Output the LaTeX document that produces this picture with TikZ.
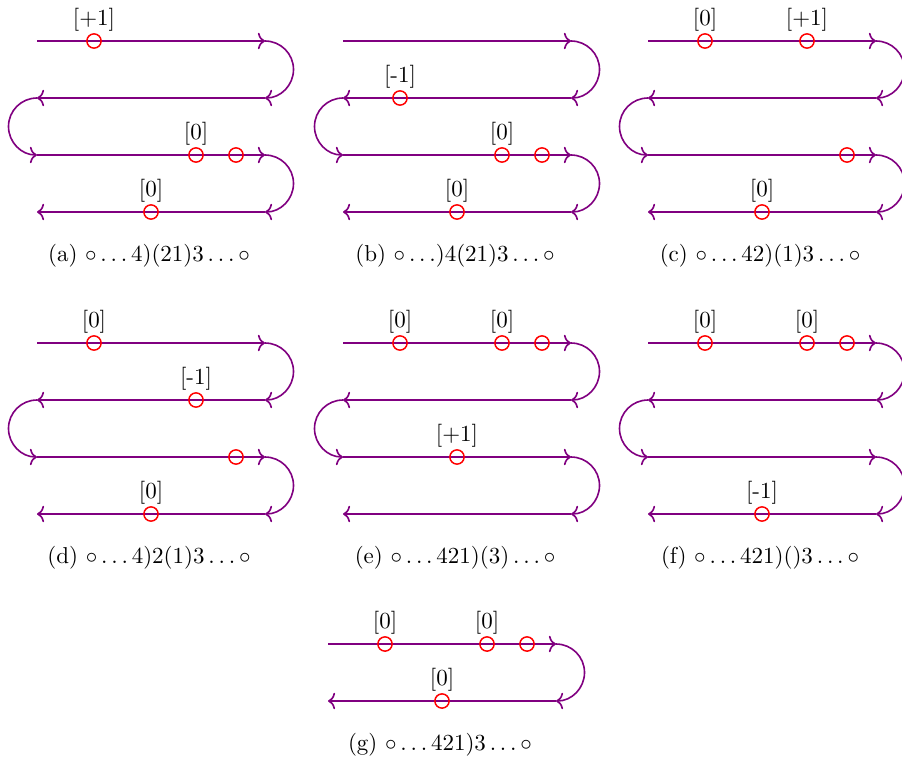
\documentclass[tikz,border=0pt]{standalone}
\usetikzlibrary{arrows.meta,calc}
\definecolor{pathcol}{RGB}{128,0,128}
\tikzset{
  track/.style={draw=pathcol,line width=0.7pt,-{Computer Modern Rightarrow[length=3.1pt,width=7.2pt]}},
  defect/.style={circle,draw=red,line width=0.65pt,minimum size=6.2pt,inner sep=0pt},
  tag/.style={inner sep=0.6pt},
  captext/.style={inner sep=0pt}
}
% #1 prefix, #2 x, #3 y
\newcommand\quadtrack[3]{%
  \coordinate (#1-1l) at (#2,#3);
  \coordinate (#1-1r) at ($(#2,#3)+(228,0)$);
  \coordinate (#1-2l) at ($(#2,#3)+(0,57)$);
  \coordinate (#1-2r) at ($(#2,#3)+(228,57)$);
  \coordinate (#1-3l) at ($(#2,#3)+(0,114)$);
  \coordinate (#1-3r) at ($(#2,#3)+(228,114)$);
  \coordinate (#1-4l) at ($(#2,#3)+(0,171)$);
  \coordinate (#1-4r) at ($(#2,#3)+(228,171)$);
  \draw[track] (#1-1l) -- (#1-1r);
  \draw[track] (#1-1r) arc[start angle=-90,end angle=90,radius=28.5];
  \draw[track] (#1-2r) -- (#1-2l);
  \draw[track] (#1-2l) arc[start angle=-90,end angle=-270,radius=28.5];
  \draw[track] (#1-3l) -- (#1-3r);
  \draw[track] (#1-3r) arc[start angle=-90,end angle=90,radius=28.5];
  \draw[track] (#1-4r) -- (#1-4l);
}
\newcommand\duotrack[3]{%
  \coordinate (#1-1l) at (#2,#3);
  \coordinate (#1-1r) at ($(#2,#3)+(228,0)$);
  \coordinate (#1-2l) at ($(#2,#3)+(0,57)$);
  \coordinate (#1-2r) at ($(#2,#3)+(228,57)$);
  \draw[track] (#1-1l) -- (#1-1r);
  \draw[track] (#1-1r) arc[start angle=-90,end angle=90,radius=28.5];
  \draw[track] (#1-2r) -- (#1-2l);
}
% #1 node name, #2 line coordinate, #3 offset, #4 label
\newcommand\defectat[4]{%
  \node[defect,label={[tag]above:{#4}}] (#1) at ($(#2)+(#3,0)$) {};
}
\newcommand\plaindefect[3]{%
  \node[defect] (#1) at ($(#2)+(#3,0)$) {};
}
\begin{document}
\begin{tikzpicture}[x=0.435pt,y=-0.435pt]
\useasboundingbox (0,0) rectangle (902,762);

% (a)
\quadtrack{a}{37}{41}
\defectat{a1}{a-1l}{57}{[+1]}
\defectat{a2}{a-3l}{159}{[0]}
\plaindefect{a3}{a-3l}{199}
\defectat{a4}{a-4l}{114}{[0]}
\node[captext] (capa) at ($(a-4l)+(112,44)$) {(a) $\circ\ldots4)(21)3\ldots\circ$};

% (b)
\quadtrack{b}{343}{41}
\defectat{b1}{b-2l}{57}{[-1]}
\defectat{b2}{b-3l}{159}{[0]}
\plaindefect{b3}{b-3l}{199}
\defectat{b4}{b-4l}{114}{[0]}
\node[captext] (capb) at ($(b-4l)+(112,44)$) {(b) $\circ\ldots)4(21)3\ldots\circ$};

% (c)
\quadtrack{c}{648}{41}
\defectat{c1}{c-1l}{57}{[0]}
\defectat{c2}{c-1l}{159}{[+1]}
\plaindefect{c3}{c-3l}{199}
\defectat{c4}{c-4l}{114}{[0]}
\node[captext] (capc) at ($(c-4l)+(112,44)$) {(c) $\circ\ldots42)(1)3\ldots\circ$};

% (d)
\quadtrack{d}{37}{343}
\defectat{d1}{d-1l}{57}{[0]}
\defectat{d2}{d-2l}{159}{[-1]}
\plaindefect{d3}{d-3l}{199}
\defectat{d4}{d-4l}{114}{[0]}
\node[captext] (capd) at ($(d-4l)+(112,44)$) {(d) $\circ\ldots4)2(1)3\ldots\circ$};

% (e)
\quadtrack{e}{343}{343}
\defectat{e1}{e-1l}{57}{[0]}
\defectat{e2}{e-1l}{159}{[0]}
\plaindefect{e3}{e-1l}{199}
\defectat{e4}{e-3l}{114}{[+1]}
\node[captext] (cape) at ($(e-4l)+(112,44)$) {(e) $\circ\ldots421)(3)\ldots\circ$};

% (f)
\quadtrack{f}{648}{343}
\defectat{f1}{f-1l}{57}{[0]}
\defectat{f2}{f-1l}{159}{[0]}
\plaindefect{f3}{f-1l}{199}
\defectat{f4}{f-4l}{114}{[-1]}
\node[captext] (capf) at ($(f-4l)+(112,44)$) {(f) $\circ\ldots421)()3\ldots\circ$};

% (g)
\duotrack{g}{328}{644}
\defectat{g1}{g-1l}{57}{[0]}
\defectat{g2}{g-1l}{159}{[0]}
\plaindefect{g3}{g-1l}{199}
\defectat{g4}{g-2l}{114}{[0]}
\node[captext] (capg) at ($(g-2l)+(112,44)$) {(g) $\circ\ldots421)3\ldots\circ$};
\end{tikzpicture}
\end{document}
